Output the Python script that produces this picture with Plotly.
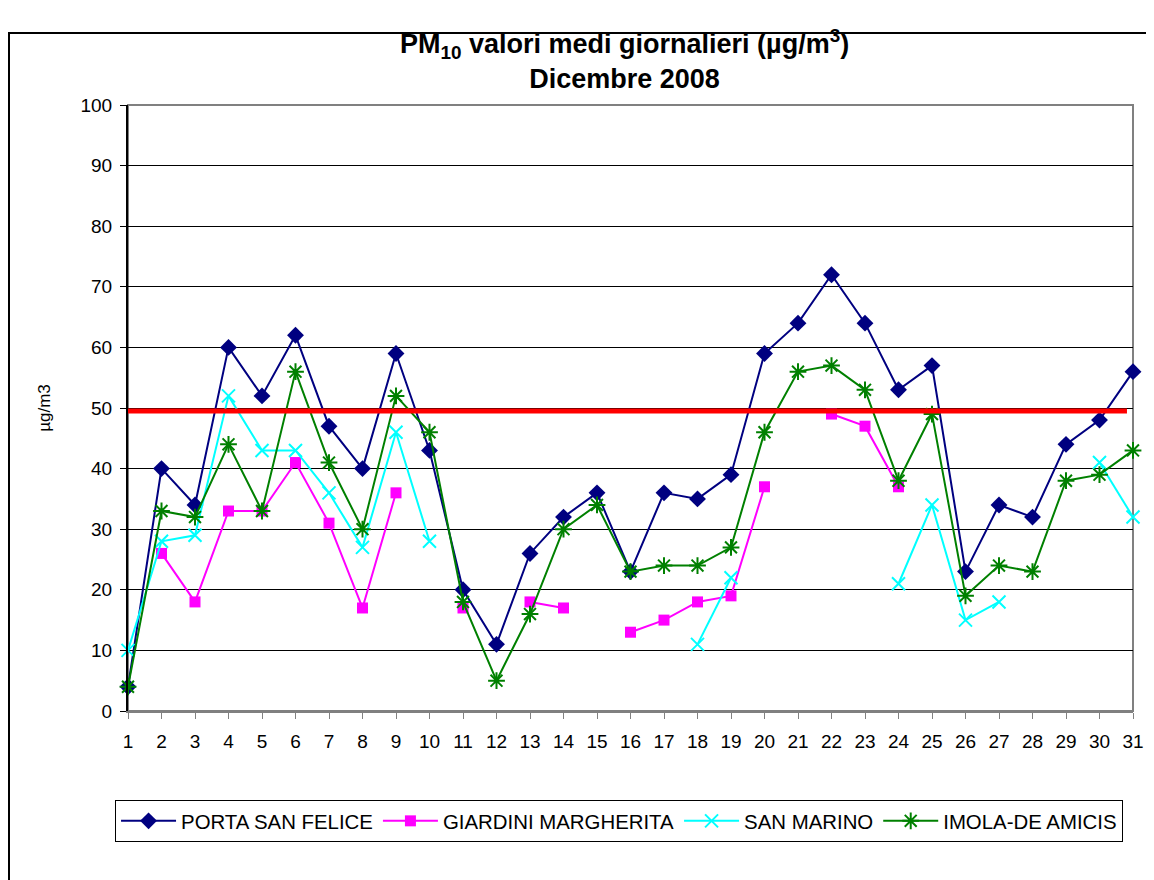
import plotly.graph_objects as go

days = list(range(1, 32))

porta_san_felice = [4, 40, 34, 60, 52, 62, 47, 40, 59, 43, 20, 11, 26, 32, 36, 23,
                    36, 35, 39, 59, 64, 72, 64, 53, 57, 23, 34, 32, 44, 48, 56]
giardini_margherita = [None, 26, 18, 33, 33, 41, 31, 17, 36, None, 17, None, 18, 17, None, 13,
                       15, 18, 19, 37, None, 49, 47, 37, None, None, None, None, None, None, None]
san_marino = [10, 28, 29, 52, 43, 43, 36, 27, 46, 28, None, None, None, None, None, None,
              None, 11, 22, None, None, None, None, 21, 34, 15, 18, None, None, 41, 32]
imola_de_amicis = [4, 33, 32, 44, 33, 56, 41, 30, 52, 46, 18, 5, 16, 30, 34, 23,
                   24, 24, 27, 46, 56, 57, 53, 38, 49, 19, 24, 23, 38, 39, 43]
limit_value = [49.5]

series = [
    ("PORTA SAN FELICE", porta_san_felice, "#000080", "diamond", 13, None),
    ("GIARDINI MARGHERITA", giardini_margherita, "#FF00FF", "square", 11, None),
    ("SAN MARINO", san_marino, "#00FFFF", "x-thin-open", 13, 2),
    ("IMOLA-DE AMICIS", imola_de_amicis, "#008000", "asterisk-open", 14, 2),
]

fig = go.Figure()
for name, vals, color, sym, size, lw in series:
    marker = dict(symbol=sym, size=size, color=color)
    if lw:
        marker["line"] = dict(color=color, width=lw)
    else:
        marker["line"] = dict(width=0)
    fig.add_trace(go.Scatter(x=days, y=vals, name=name, mode="lines+markers",
                             line=dict(color=color, width=2), marker=marker,
                             cliponaxis=False, connectgaps=False))

font_family = "Liberation Sans, Arial, sans-serif"

# page offset of the figure (body margin) is 8px
fig.update_layout(
    width=1154, height=880,
    paper_bgcolor="white", plot_bgcolor="white",
    margin=dict(l=120, r=29, t=97, b=177),
    font=dict(family=font_family, size=19, color="black"),
    showlegend=True,
    legend=dict(
        orientation="h", x=0.4886, xanchor="center", y=-0.147, yanchor="top",
        bordercolor="black", borderwidth=1, bgcolor="white",
        font=dict(family=font_family, size=20.4, color="black"),
        itemwidth=55, tracegroupgap=0,
    ),
    xaxis=dict(
        range=[1, 31], tickmode="array", tickvals=days, ticktext=[str(d) for d in days],
        showgrid=False, zeroline=False, showline=True, linecolor="#808080", linewidth=2,
        ticks="outside", ticklen=6, tickcolor="#808080", tickwidth=1,
        ticklabelstandoff=6,
        tickfont=dict(family=font_family, size=19, color="black"),
    ),
    yaxis=dict(
        range=[0, 100], tickmode="linear", tick0=0, dtick=10,
        showgrid=True, gridcolor="black", gridwidth=1, zeroline=False,
        showline=True, linecolor="black", linewidth=2,
        ticks="outside", ticklen=6, tickcolor="black",
        ticklabelstandoff=4,
        tickfont=dict(family=font_family, size=19, color="black"),
        title=dict(text="µg/m3", standoff=26, font=dict(family=font_family, size=17, color="black")),
    ),
    annotations=[
        dict(text="<b>PM<sub>10</sub> valori medi giornalieri (µg/m<sup>3</sup>)<br>Dicembre 2008</b>",
             xref="paper", yref="paper", x=0.4945, y=(711 - 59) / 606,
             xanchor="center", yanchor="middle", showarrow=False,
             font=dict(family=font_family, size=27, color="black")),
    ],
    shapes=[
        dict(type="rect", xref="paper", yref="paper", x0=0, x1=1, y0=0, y1=1,
             line=dict(color="#808080", width=2), layer="below"),
        dict(type="line", xref="x", yref="y", x0=0.7, x1=30.82, y0=limit_value[0], y1=limit_value[0],
             line=dict(color="#FF0000", width=5), layer="above"),
        dict(type="rect", xref="paper", yref="paper",
             x0=(9 - 128) / 1005, x1=(1170 - 128) / 1005,
             y0=(711 - 900) / 606, y1=(711 - 33) / 606,
             line=dict(color="black", width=2), layer="above"),
    ],
)

fig.write_html("out.html")
